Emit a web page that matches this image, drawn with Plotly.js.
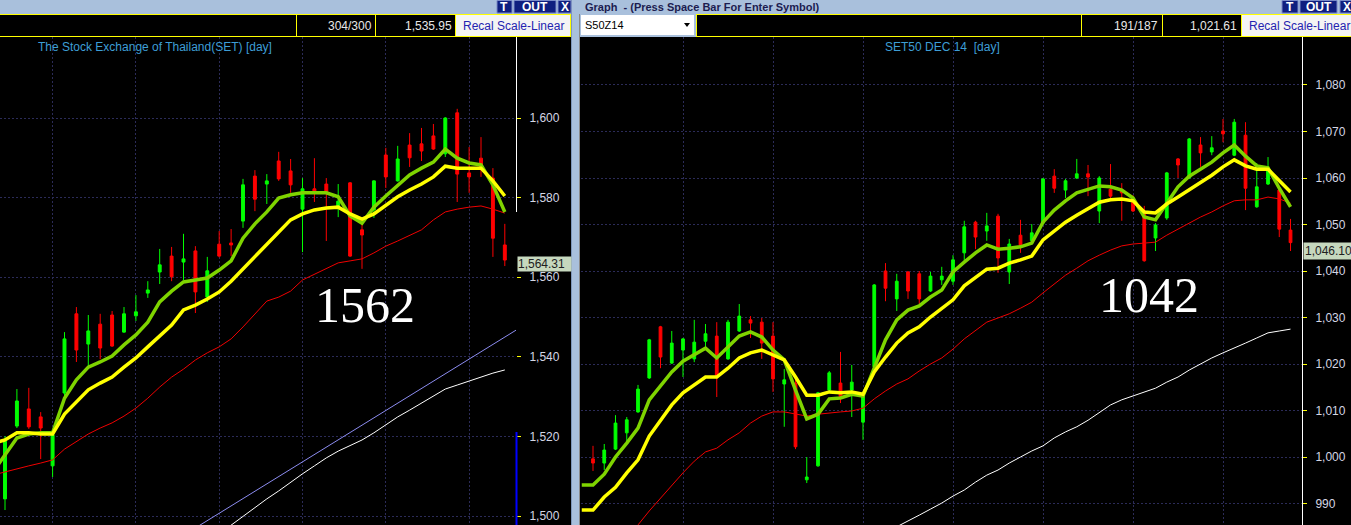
<!DOCTYPE html>
<html><head><meta charset="utf-8">
<script src="https://cdn.plot.ly/plotly-3.0.1.min.js"></script>
<style>html,body{margin:0;padding:0;background:#000;overflow:hidden}#chart{width:1351px;height:525px}</style>
</head><body><div id="chart"></div>
<script>
// ---------- Left panel: SET index (day) ----------
const setOpen  = [1504.3,1522.6,1526.9,1524.9,1512.6,1530.9,1550.8,1543.2,1548.2,1550.5,1546.2,1550.3,1556.0,1561.3,1565.3,1563.8,1566.6,1555.0,1568.3,1568.6,1574.1,1585.4,1583.4,1589.2,1586.7,1577.1,1582.2,1583.4,1577.6,1583.7,1571.9,1576.9,1590.7,1584.2,1593.2,1593.5,1595.5,1591.0,1601.3,1586.2,1589.9,1584.9,1568.1];
const setHigh  = [1520.1,1531.9,1532.2,1526.1,1520.6,1546.2,1552.5,1550.5,1550.8,1551.5,1552.5,1555.5,1559.0,1567.1,1567.6,1570.9,1567.8,1565.1,1571.6,1572.1,1584.7,1586.9,1585.9,1591.5,1589.7,1584.9,1589.9,1584.9,1583.4,1583.9,1574.4,1584.4,1592.5,1593.0,1596.2,1597.5,1598.5,1600.2,1602.3,1592.7,1595.2,1587.4,1573.4];
const setLow   = [1501.5,1522.1,1521.9,1514.3,1509.8,1529.9,1538.7,1537.4,1539.4,1542.5,1546.0,1549.0,1554.8,1558.3,1559.0,1559.3,1551.0,1553.8,1565.0,1565.3,1572.4,1576.6,1578.4,1584.2,1581.2,1566.3,1578.9,1569.1,1575.1,1565.1,1562.1,1574.9,1582.4,1584.0,1587.7,1589.2,1592.0,1590.2,1578.9,1581.2,1585.2,1565.1,1562.8];
const setClose = [1518.8,1528.9,1522.4,1522.1,1520.4,1544.5,1541.7,1546.5,1542.2,1542.7,1550.8,1551.3,1556.8,1563.1,1560.1,1564.6,1556.3,1561.6,1565.3,1568.1,1583.2,1579.6,1584.2,1584.7,1583.2,1582.2,1581.4,1581.4,1579.1,1565.3,1570.6,1584.2,1585.2,1589.7,1590.0,1591.7,1592.2,1600.0,1585.9,1585.2,1587.4,1569.8,1564.31];
// moving averages, first value belongs to the day before the first visible candle
const setMaFast = [1511.1,1515.3,1519.6,1520.6,1520.9,1520.9,1529.6,1534.2,1537.4,1538.7,1540.2,1543.0,1545.5,1548.7,1553.8,1556.5,1558.8,1559.3,1559.8,1561.8,1564.1,1569.8,1573.4,1576.4,1579.9,1580.7,1581.2,1581.2,1581.2,1580.2,1575.4,1573.6,1577.6,1580.4,1583.2,1585.7,1587.4,1588.9,1592.2,1589.9,1588.7,1588.2,1583.2,1576.4];
const setMaMid  = [1518.3,1519.1,1520.9,1520.9,1520.6,1520.6,1525.6,1528.6,1531.7,1533.4,1534.9,1537.4,1539.7,1542.5,1545.2,1548.0,1551.8,1553.0,1554.5,1556.3,1559.0,1562.1,1565.3,1568.3,1571.4,1574.4,1575.9,1576.9,1577.4,1577.6,1575.9,1574.6,1575.9,1578.1,1580.2,1581.9,1583.4,1585.2,1587.9,1587.4,1587.4,1587.4,1584.2,1580.4];
const setMaSlow = [1510.3,1511.1,1511.8,1512.6,1513.3,1514.1,1516.8,1518.8,1520.6,1522.1,1523.4,1525.1,1527.1,1529.6,1532.4,1534.9,1536.9,1539.2,1541.0,1542.5,1544.5,1547.5,1550.8,1554.0,1555.0,1556.5,1559.3,1560.8,1562.3,1563.6,1564.1,1564.6,1566.1,1567.8,1569.1,1570.6,1571.9,1574.4,1576.4,1577.1,1577.6,1577.9,1577.1,1576.1];
// long average, starts at day 18
const setMaLongStart = 18;
const setMaLong = [1495.5,1497.7,1500.0,1502.3,1504.3,1506.3,1508.5,1510.6,1512.6,1514.6,1516.3,1517.6,1519.1,1520.9,1522.9,1524.9,1526.6,1528.4,1530.2,1531.9,1532.9,1533.9,1534.9,1535.9,1536.7];
// trend line end points
const setTrendX = [16, 43];
const setTrendY = [1497.0, 1546.8];
const setTickVals = [1500,1520,1540,1560,1580,1600];
const setTickText = ['1,500','1,520','1,540','1,560','1,580','1,600'];

// ---------- Right panel: SET50 DEC 14 futures (day) ----------
const s50Open  = [999.6,998.7,1001.7,1005.2,1009.7,1017.0,1028.0,1020.2,1023.0,1021.1,1024.9,1026.0,1021.1,1027.1,1029.5,1029.0,1026.0,1015.7,1015.9,995.1,998.1,1014.4,1015.9,1014.4,1007.5,1019.4,1040.0,1034.0,1039.8,1039.4,1035.7,1038.1,1037.8,1043.9,1050.5,1048.6,1051.8,1039.8,1047.7,1046.5,1050.3,1060.4,1057.4,1060.0,1060.9,1052.9,1057.6,1057.2,1054.8,1052.9,1047.1,1051.4,1064.1,1060.0,1067.1,1065.6,1070.1,1064.9,1069.2,1053.8,1058.7,1057.4,1048.8];
const s50High  = [1002.4,1002.8,1009.0,1008.6,1015.5,1025.4,1028.2,1027.1,1025.6,1029.5,1028.6,1029.0,1029.5,1032.9,1030.3,1029.9,1029.0,1018.9,1016.8,1000.0,1014.0,1018.5,1022.6,1019.8,1014.0,1037.2,1041.7,1039.4,1040.0,1040.0,1039.8,1040.9,1043.4,1050.8,1050.8,1052.5,1052.3,1046.9,1051.0,1050.1,1060.0,1061.9,1059.8,1064.1,1062.8,1060.4,1063.0,1058.9,1056.3,1054.0,1050.3,1061.3,1064.3,1068.6,1068.8,1069.0,1072.7,1072.7,1072.0,1063.2,1064.5,1057.6,1051.2];
const s50Low   = [997.0,997.2,1001.5,1003.0,1009.5,1016.8,1019.1,1020.0,1017.2,1020.4,1023.7,1012.9,1020.9,1026.9,1025.6,1021.1,1014.0,1006.5,1001.7,994.4,997.9,1014.2,1011.6,1008.6,1003.7,1019.2,1033.5,1031.4,1034.0,1032.9,1035.5,1037.0,1037.0,1042.2,1044.7,1046.5,1039.6,1037.2,1043.9,1046.3,1050.1,1056.8,1055.7,1059.8,1056.1,1050.3,1055.7,1050.8,1052.7,1042.0,1044.3,1051.0,1060.0,1059.8,1062.4,1064.9,1067.7,1064.7,1053.1,1053.6,1058.5,1047.3,1044.3];
const s50Close = [998.7,1001.5,1007.3,1008.0,1014.6,1025.2,1021.5,1024.5,1025.4,1024.7,1026.5,1017.4,1029.0,1030.3,1028.8,1024.5,1016.8,1016.6,1002.2,995.7,1013.8,1018.1,1012.9,1016.1,1013.1,1037.0,1036.3,1037.8,1035.7,1034.0,1038.9,1038.9,1042.4,1049.5,1047.3,1049.7,1042.8,1045.8,1045.6,1048.2,1059.8,1057.8,1059.4,1060.9,1060.2,1060.0,1056.1,1056.8,1052.9,1042.2,1049.9,1061.1,1062.8,1068.4,1065.4,1066.5,1069.5,1072.0,1057.8,1058.1,1062.2,1049.0,1046.1];
const s50MaFast = [994.0,994.0,996.3,1000.0,1003.0,1006.2,1012.3,1015.3,1018.3,1020.6,1021.9,1023.4,1021.3,1023.7,1026.0,1026.9,1025.8,1023.0,1020.9,1014.4,1008.2,1009.2,1012.5,1012.7,1013.5,1013.1,1019.1,1025.2,1029.5,1031.6,1032.5,1034.4,1035.9,1039.8,1041.9,1043.9,1045.6,1044.7,1044.9,1045.2,1046.0,1050.5,1053.1,1055.1,1056.8,1057.6,1058.3,1058.1,1057.4,1055.7,1051.6,1051.0,1054.4,1058.1,1060.4,1061.9,1063.4,1065.4,1067.1,1064.7,1062.6,1062.2,1057.8,1053.8];
const s50MaMid  = [988.6,988.6,991.4,993.5,996.6,999.4,1004.5,1008.0,1011.2,1013.8,1015.5,1017.2,1017.2,1019.1,1021.3,1022.4,1023.0,1021.9,1020.9,1017.2,1013.3,1013.3,1014.0,1013.8,1014.0,1013.5,1018.3,1021.5,1024.5,1026.7,1028.0,1030.1,1032.0,1033.8,1036.8,1038.5,1040.4,1040.6,1041.7,1042.4,1043.2,1046.7,1048.6,1050.5,1052.0,1053.5,1054.8,1055.3,1055.5,1055.1,1052.7,1052.5,1054.4,1055.9,1057.4,1059.1,1060.6,1062.4,1063.9,1062.6,1061.9,1061.9,1059.4,1057.0];
const s50MaSlowStart = 3;
const s50MaSlow = [982.8,985.4,988.4,991.2,994.0,996.6,999.1,1001.1,1001.9,1003.7,1005.2,1007.3,1008.8,1009.7,1009.7,1009.2,1008.8,1009.2,1009.5,1009.7,1009.9,1010.5,1012.5,1014.2,1015.7,1016.8,1018.5,1020.0,1021.3,1023.2,1025.4,1027.3,1029.0,1029.9,1030.8,1032.0,1033.3,1035.3,1037.2,1039.1,1040.6,1042.2,1043.4,1044.5,1045.4,1045.8,1046.0,1046.2,1047.7,1049.0,1050.3,1051.6,1052.7,1054.0,1055.1,1055.3,1055.3,1055.9,1055.5,1054.6];
const s50MaLongStart = 27;
const s50MaLong = [985.0,986.2,987.5,988.8,990.1,991.6,992.9,994.6,996.1,997.2,998.7,1000.0,1001.3,1002.4,1004.1,1005.4,1006.5,1007.9,1009.5,1011.2,1012.3,1013.1,1014.0,1014.8,1016.1,1017.2,1018.7,1020.0,1021.3,1022.4,1023.4,1024.5,1025.6,1026.7,1027.1,1027.5];
const s50TickVals = [990,1000,1010,1020,1030,1040,1050,1060,1070,1080];
const s50TickText = ['990','1,000','1,010','1,020','1,030','1,040','1,050','1,060','1,070','1,080'];

// ---------- helpers ----------
const W = 1351, H = 525;
const X = p => p / W, Y = p => 1 - p / H;
const idx = (arr, start) => arr.map((_, k) => k + start);
const GRID = '#2b2b58';
const FONT = 'Liberation Sans, Arial, sans-serif';
const GREEN_MA = '#7fd400', YELLOW_MA = '#ffff00';

function candles(o,h,l,c,xa,ya){
  return {type:'candlestick', x: idx(o,0), open:o, high:h, low:l, close:c, xaxis:xa, yaxis:ya,
    increasing:{line:{color:'#00ff00',width:1}, fillcolor:'#00ff00'},
    decreasing:{line:{color:'#ff0000',width:1}, fillcolor:'#ff0000'},
    whiskerwidth:0, hoverinfo:'skip', showlegend:false};
}
function line(xs, ys, color, width, xa, ya){
  return {type:'scatter', mode:'lines', x:xs, y:ys, xaxis:xa, yaxis:ya,
    line:{color, width, shape:'linear'}, hoverinfo:'skip', showlegend:false};
}

const data = [
  candles(setOpen,setHigh,setLow,setClose,'x','y'),
  candles(s50Open,s50High,s50Low,s50Close,'x2','y2'),
  line(setTrendX, setTrendY, '#8c8cf0', 1, 'x','y'),
  line(idx(setMaLong,setMaLongStart), setMaLong, '#ffffff', 1, 'x','y'),
  line(idx(setMaSlow,-1), setMaSlow, '#f00000', 1, 'x','y'),
  line(idx(setMaFast,-1), setMaFast, GREEN_MA, 3.5, 'x','y'),
  line(idx(setMaMid,-1), setMaMid, YELLOW_MA, 3.5, 'x','y'),
  line(idx(s50MaLong,s50MaLongStart), s50MaLong, '#ffffff', 1, 'x2','y2'),
  line(idx(s50MaSlow,s50MaSlowStart), s50MaSlow, '#f00000', 1, 'x2','y2'),
  line(idx(s50MaFast,-1), s50MaFast, GREEN_MA, 3.5, 'x2','y2'),
  line(idx(s50MaMid,-1), s50MaMid, YELLOW_MA, 3.5, 'x2','y2')
];

// ---------- chrome ----------
const shapes = [];
function rect(x0,y0,x1,y1,fill,lc,lw){
  shapes.push({type:'rect',xref:'paper',yref:'paper',x0:X(x0),x1:X(x1),y0:Y(y1),y1:Y(y0),
    fillcolor:fill,line:{color:lc||fill,width:lc?(lw||1):0},layer:'above'});
}
function seg(x0,y0,x1,y1,color,w){
  shapes.push({type:'line',xref:'paper',yref:'paper',x0:X(x0),x1:X(x1),y0:Y(y0),y1:Y(y1),
    line:{color,width:w||1},layer:'above'});
}
const BAR = '#a9c0dc', BTN = '#0f1f80', BTNL = '#7a8ac8', YEL = '#ffff00';
rect(0,0,1351,14,BAR);
rect(571,0,580,525,BAR);
seg(571.5,0,571.5,525,'#7f97ba',1);
seg(579.5,14,579.5,525,'#8a8a8a',1);
// left toolbar
seg(0,14.5,571,14.5,YEL,1); seg(0,36.5,571,36.5,YEL,1);
seg(296.5,14,296.5,37,YEL,1); seg(375.5,14,375.5,37,YEL,1); seg(455.5,14,455.5,37,YEL,1); seg(570.5,14,570.5,37,YEL,1);
rect(456,15,570,36,'#f4f4f4');
rect(497,0.5,512,13,BTN,BTNL); rect(514,0.5,556,13,BTN,BTNL); rect(558,0.5,571,13,BTN,BTNL);
// right toolbar
rect(580,14,696,37,BAR);
rect(581,15,694,35,'#ffffff');
shapes.push({type:'path',xref:'paper',yref:'paper',path:`M ${X(684)} ${Y(23)} L ${X(690)} ${Y(23)} L ${X(687)} ${Y(27)} Z`,fillcolor:'#000',line:{width:0},layer:'above'});
seg(696,14.5,1351,14.5,YEL,1); seg(696,36.5,1351,36.5,YEL,1);
seg(696.5,14,696.5,37,YEL,1); seg(1081.5,14,1081.5,37,YEL,1); seg(1162.5,14,1162.5,37,YEL,1); seg(1241.5,14,1241.5,37,YEL,1);
rect(1242,15,1351,36,'#f4f4f4');
rect(1282,0.5,1298,13,BTN,BTNL); rect(1300,0.5,1337,13,BTN,BTNL); rect(1340,0.5,1356,13,BTN,BTNL);
// axis lines
seg(516.5,37,516.5,212,'#ffffff',1);
seg(516.5,432,516.5,525,'#0000ff',2);
seg(1302.5,37,1302.5,525,'#ffffff',1);

const annotations = [];
function ann(text,x,y,size,color,xanchor,extra){
  annotations.push(Object.assign({xref:'paper',yref:'paper',x:X(x),y:Y(y),text,showarrow:false,
    xanchor:xanchor||'left',yanchor:'middle',font:{family:FONT,size,color}},extra||{}));
}
ann('The Stock Exchange of Thailand(SET) [day]',36,47,12,'#3e9ed6','left');
ann('SET50 DEC 14\u00a0\u00a0[day]',883,47,12,'#3e9ed6','left');
ann('304/300',374,26,12,'#e8e8e8','right');
ann('1,535.95',454,26,12,'#e8e8e8','right');
ann('Recal Scale-Linear',513,26,12,'#2424b0','center');
ann('191/187',1160,26,12,'#e8e8e8','right');
ann('1,021.61',1239,26,12,'#e8e8e8','right');
ann('Recal Scale-Linear',1299,26,12,'#2424b0','center');
ann('S50Z14',583,25,11,'#000000','left');
ann('<b>Graph  - (Press Space Bar For Enter Symbol)</b>',583,6.5,11,'#1c1c50','left');
[['T',504.5],['OUT',535],['X',564.5],['T',1290],['OUT',1318.5],['X',1347]].forEach(b=>ann('<b>'+b[0]+'</b>',b[1],7,12,'#ffffff','center'));
annotations.push({xref:'paper',yref:'paper',x:X(365),y:Y(305),text:'1562',showarrow:false,xanchor:'center',yanchor:'middle',
  font:{family:'Liberation Serif, Times New Roman, serif',size:50,color:'#ffffff'}});
annotations.push({xref:'paper',yref:'paper',x:X(1149),y:Y(295),text:'1042',showarrow:false,xanchor:'center',yanchor:'middle',
  font:{family:'Liberation Serif, Times New Roman, serif',size:50,color:'#ffffff'}});
ann('1,564.31',517,264,12,'#202020','left',{bgcolor:'#c6d8be',borderpad:0,height:14,width:53,align:'left'});
ann('1,046.10',1303,251,12,'#202020','left',{bgcolor:'#c6d8be',borderpad:1,width:48,align:'left'});

function xAxis(domain, range, vals, anchor){
  return {domain, range, anchor, tickmode:'array', tickvals:vals, showticklabels:false, ticks:'',
    showgrid:true, gridcolor:GRID, griddash:'2px,2px', gridwidth:1, zeroline:false, showline:false,
    rangeslider:{visible:false}, fixedrange:true};
}
function yAxis(range, vals, text, anchor){
  return {domain:[0,488/H], range, anchor, side:'right', tickmode:'array', tickvals:vals, ticktext:text,
    ticks:'outside', ticklen:4, tickwidth:1, tickcolor:'#ffff00', ticklabelstandoff:6,
    tickfont:{family:FONT,size:12,color:'#d4d6e4'}, showgrid:true, gridcolor:GRID, griddash:'2px,2px',
    gridwidth:1, zeroline:false, showline:false, fixedrange:true};
}

const layout = {
  width:W, height:H, margin:{l:0,r:0,t:0,b:0,pad:0},
  paper_bgcolor:'#000000', plot_bgcolor:'#000000', showlegend:false,
  boxgap:0.65, hovermode:false, dragmode:false,
  font:{family:FONT,size:12,color:'#d4d6e4'},
  xaxis: xAxis([0,516/W],[-0.42,42.94],[4,11,18,25,32,39],'y'),
  yaxis: yAxis([1497.74,1620.35], setTickVals, setTickText, 'x'),
  xaxis2: xAxis([581/W,1302/W],[-1.067,63.02],[8,16,24,32,40,48,56],'y2'),
  yaxis2: yAxis([985.38,1090.32], s50TickVals, s50TickText, 'x2'),
  shapes, annotations
};

Plotly.newPlot('chart', data, layout, {staticPlot:true, displayModeBar:false});
</script>
</body></html>
